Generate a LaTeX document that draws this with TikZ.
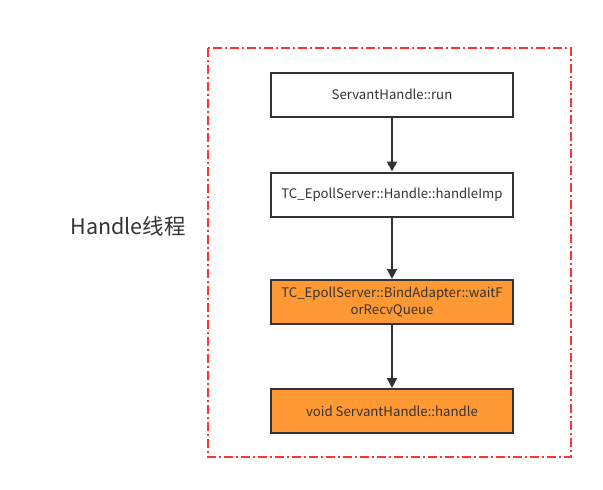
\documentclass[tikz,border=0pt]{standalone}
\usepackage{fontspec}
\setmainfont{Noto Sans CJK SC}
\usetikzlibrary{arrows.meta}
\definecolor{edgegray}{RGB}{51,51,51}
\definecolor{boxorange}{RGB}{255,153,51}
\definecolor{framered}{RGB}{255,51,51}
\begin{document}
\begin{tikzpicture}[x=1pt,y=-1pt,
  stepbox/.style={draw=edgegray,line width=2pt,minimum width=242pt,minimum height=44pt,inner sep=0pt,font=\fontsize{13.2}{16.5}\selectfont,text=edgegray,align=center},
  hotbox/.style={stepbox,fill=boxorange},
  flow/.style={draw=edgegray,line width=2pt,-{Triangle[length=10pt,width=10pt]}}]
\useasboundingbox[fill=white] (0,0) rectangle (603,490);
\draw[framered,line width=1.4pt,dash pattern=on 9pt off 3pt on 2pt off 3pt] (208,48) rectangle (571,457);
\node[font=\fontsize{21.5}{25}\selectfont,text=edgegray] (label) at (128,226) {Handle线程};
\node[stepbox] (run) at (392,94.5) {ServantHandle::run};
\node[stepbox] (imp) at (392,194.5) {TC\_EpollServer::Handle::handleImp};
\node[hotbox] (wait) at (392,302) {TC\_EpollServer::BindAdapter::waitF\\orRecvQueue};
\node[hotbox] (handle) at (392,411) {void ServantHandle::handle};
\draw[flow] (run) -- (imp);
\draw[flow] (imp) -- (wait);
\draw[flow] (wait) -- (handle);
\end{tikzpicture}
\end{document}
